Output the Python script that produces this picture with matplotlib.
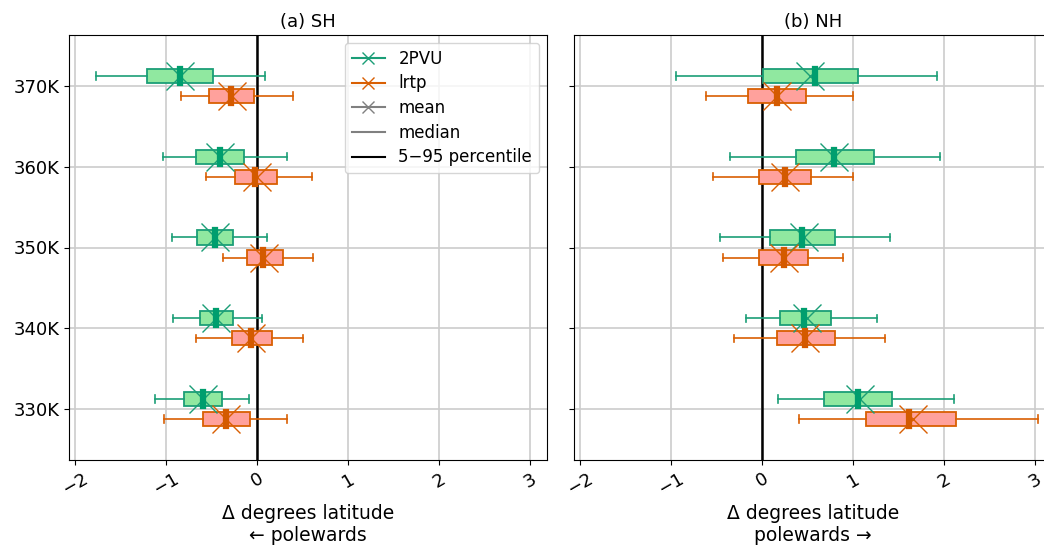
import numpy as np
import matplotlib.pyplot as plt
from matplotlib.lines import Line2D

# isentropic levels (K)
levels = [370, 360, 350, 340, 330]

# SH statistics per level: 5th pct, q1, median, mean, q3, 95th pct
sh_2pvu_lo = [-1.77, -1.04, -0.94, -0.93, -1.12]
sh_2pvu_q1 = [-1.21, -0.67, -0.66, -0.63, -0.81]
sh_2pvu_med = [-0.85, -0.41, -0.46, -0.45, -0.60]
sh_2pvu_mean = [-0.85, -0.41, -0.46, -0.45, -0.60]
sh_2pvu_q3 = [-0.48, -0.14, -0.26, -0.26, -0.39]
sh_2pvu_hi = [0.09, 0.33, 0.11, 0.05, -0.09]

sh_lrtp_lo = [-0.84, -0.56, -0.37, -0.67, -1.02]
sh_lrtp_q1 = [-0.53, -0.24, -0.11, -0.28, -0.60]
sh_lrtp_med = [-0.29, -0.02, 0.07, -0.07, -0.34]
sh_lrtp_mean = [-0.28, 0.00, 0.08, -0.07, -0.34]
sh_lrtp_q3 = [-0.03, 0.22, 0.29, 0.16, -0.08]
sh_lrtp_hi = [0.40, 0.60, 0.61, 0.50, 0.33]

# NH statistics
nh_2pvu_lo = [-0.95, -0.35, -0.46, -0.18, 0.18]
nh_2pvu_q1 = [0.01, 0.37, 0.09, 0.20, 0.68]
nh_2pvu_med = [0.58, 0.79, 0.44, 0.46, 1.05]
nh_2pvu_mean = [0.53, 0.79, 0.46, 0.49, 1.08]
nh_2pvu_q3 = [1.06, 1.23, 0.80, 0.76, 1.43]
nh_2pvu_hi = [1.92, 1.96, 1.41, 1.26, 2.11]

nh_lrtp_lo = [-0.62, -0.54, -0.43, -0.31, 0.41]
nh_lrtp_q1 = [-0.15, -0.03, -0.03, 0.16, 1.14]
nh_lrtp_med = [0.16, 0.25, 0.24, 0.47, 1.62]
nh_lrtp_mean = [0.16, 0.25, 0.24, 0.47, 1.66]
nh_lrtp_q3 = [0.48, 0.54, 0.51, 0.80, 2.13]
nh_lrtp_hi = [1.00, 1.00, 0.89, 1.35, 3.04]

green = '#1b9e77'
green_med = '#009e6e'
green_fill = '#90e8a0'
orange = '#d95f02'
orange_med = '#d45a00'
orange_fill = '#ffa19c'


def make_stats(lo, q1, med, mean, q3, hi):
    return [dict(whislo=a, q1=b, med=c, mean=d, q3=e, whishi=f, fliers=[])
            for a, b, c, d, e, f in zip(lo, q1, med, mean, q3, hi)]


def draw(ax, stats, offset, edge, fill, medc):
    pos = [lev + offset for lev in levels]
    ax.bxp(stats, positions=pos, widths=1.75, vert=False, patch_artist=True,
           showmeans=True, manage_ticks=False,
           boxprops=dict(facecolor=fill, edgecolor=edge, lw=1.3),
           whiskerprops=dict(color=edge, lw=1.2),
           capprops=dict(color=edge, lw=1.2),
           medianprops=dict(color=medc, lw=4.5, zorder=4,
                            solid_capstyle='projecting'),
           meanprops=dict(marker='x', markersize=20, markeredgecolor=edge,
                          markeredgewidth=1.0, zorder=3),
           capwidths=0.9)


plt.rcParams['font.size'] = 13
fig = plt.figure(figsize=(10.44, 5.47), dpi=100)
ax1 = fig.add_axes([69 / 1044, 87 / 547, 478 / 1044, 425 / 547])
ax2 = fig.add_axes([574 / 1044, 87 / 547, 478 / 1044, 425 / 547],
                   sharex=ax1, sharey=ax1)

panels = [
    (ax1, '(a) SH', 'Δ degrees latitude\n← polewards',
     make_stats(sh_2pvu_lo, sh_2pvu_q1, sh_2pvu_med, sh_2pvu_mean, sh_2pvu_q3, sh_2pvu_hi),
     make_stats(sh_lrtp_lo, sh_lrtp_q1, sh_lrtp_med, sh_lrtp_mean, sh_lrtp_q3, sh_lrtp_hi)),
    (ax2, '(b) NH', 'Δ degrees latitude\npolewards →',
     make_stats(nh_2pvu_lo, nh_2pvu_q1, nh_2pvu_med, nh_2pvu_mean, nh_2pvu_q3, nh_2pvu_hi),
     make_stats(nh_lrtp_lo, nh_lrtp_q1, nh_lrtp_med, nh_lrtp_mean, nh_lrtp_q3, nh_lrtp_hi)),
]

for ax, title, xlabel, s_2pvu, s_lrtp in panels:
    ax.grid(True, color='#cccccc', lw=1.2)
    ax.set_axisbelow(True)
    ax.axvline(0, color='k', lw=1.8, zorder=1.8)
    draw(ax, s_2pvu, 1.24, green, green_fill, green_med)
    draw(ax, s_lrtp, -1.24, orange, orange_fill, orange_med)
    ax.set_title(title, fontsize=13)
    ax.set_xlabel(xlabel, fontsize=13.5)
    ax.set_xticks([-2, -1, 0, 1, 2, 3])
    ax.tick_params(axis='x', labelrotation=30)

ax1.set_xlim(-2.07, 3.19)
ax1.set_ylim(323.7, 376.3)
ax1.set_yticks(levels)
ax1.set_yticklabels([f'{lev}K' for lev in levels])
ax2.tick_params(axis='y', labelleft=False)

handles = [
    Line2D([], [], color=green, marker='x', ms=8, lw=1.5),
    Line2D([], [], color=orange, marker='x', ms=8, lw=1.5),
    Line2D([], [], color='gray', marker='x', ms=8, lw=1.5),
    Line2D([], [], color='gray', lw=1.5),
    Line2D([], [], color='k', lw=1.5),
]
ax1.legend(handles, ['2PVU', 'lrtp', 'mean', 'median', '5−95 percentile'],
           loc='upper right', bbox_to_anchor=(0.983, 0.981), borderaxespad=0,
           fontsize=12, labelspacing=0.4)

fig.savefig('out.png', dpi=100)
